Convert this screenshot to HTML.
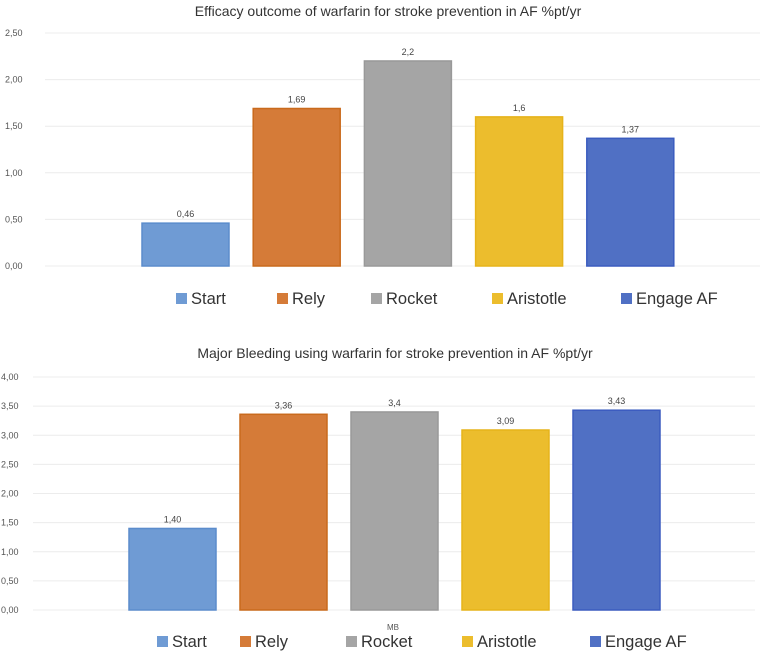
<!DOCTYPE html>
<html><head><meta charset="utf-8"><style>
html,body{margin:0;padding:0;background:#fff;}
svg{display:block;font-family:"Liberation Sans",sans-serif;}
</style></head><body>
<svg id="svg" width="771" height="653">
<text x="388" y="16" text-anchor="middle" font-size="14" fill="#333">Efficacy outcome of warfarin for stroke prevention in AF %pt/yr</text>
<text x="395" y="358" text-anchor="middle" font-size="14" fill="#333">Major Bleeding using warfarin for stroke prevention in AF %pt/yr</text>
<text x="393" y="630" text-anchor="middle" font-size="8" fill="#555">MB</text>
</svg>
<script>
const categories = ["Start","Rely","Rocket","Aristotle","Engage AF"];
const efficacyValues = [0.46,1.69,2.2,1.6,1.37];
const efficacyLabels = ["0,46","1,69","2,2","1,6","1,37"];
const bleedingValues = [1.40,3.36,3.4,3.09,3.43];
const bleedingLabels = ["1,40","3,36","3,4","3,09","3,43"];
const efficacyTicks = [0,0.5,1,1.5,2,2.5];
const bleedingTicks = [0,0.5,1,1.5,2,2.5,3,3.5,4];
const fills = ["#6f9bd4","#d57b38","#a5a5a5","#ecbd2d","#5070c4"];
const strokes = ["#5b8ccc","#c96a1c","#999","#e6b31a","#3b5cbf"];
const NS="http://www.w3.org/2000/svg";
const svg=document.getElementById('svg');
function mk(tag,attrs,txt){const e=document.createElementNS(NS,tag);for(const k in attrs)e.setAttribute(k,attrs[k]);if(txt!==undefined)e.textContent=txt;svg.appendChild(e);return e;}
function chart(cfg){
  const y=v=>cfg.y0-(v/cfg.max)*(cfg.y0-cfg.yTop);
  cfg.ticks.forEach(t=>{
    const l=mk('line',{x1:cfg.gx0,x2:cfg.gx1,y1:y(t),y2:y(t),stroke:"#ececec","stroke-width":1});
    
    
    const tx=mk('text',{x:cfg.lx,y:y(t)+3,"font-size":9,fill:"#555"},t.toFixed(2).replace('.',','));
    
    
  });
  cfg.values.forEach((v,i)=>{
    const x=cfg.bx0+i*cfg.pitch;
    const r=mk('rect',{x:x,y:y(v),width:cfg.bw,height:cfg.y0-y(v),fill:fills[i],stroke:strokes[i],"stroke-width":1.5});
    
    
    const t=mk('text',{x:x+cfg.bw/2,y:y(v)-6,"text-anchor":"middle","font-size":9,fill:"#444"},cfg.labels[i]);
    
    
  });
  categories.forEach((c,i)=>{
    const sx=cfg.legX[i];
    const s=mk('rect',{x:sx,y:cfg.legY-5,width:11,height:11,fill:fills[i]});
    
    
    const t=mk('text',{x:sx+15,y:cfg.legY+6,"font-size":16.5,fill:"#333"},c);
    
    
  });
}
chart({id:'efficacy',values:efficacyValues,labels:efficacyLabels,ticks:efficacyTicks,max:2.5,y0:266,yTop:33,gx0:45,gx1:760,lx:5,bx0:142,pitch:111.2,bw:87,legY:298,legX:[176,277,371,492,621]});
chart({id:'bleeding',values:bleedingValues,labels:bleedingLabels,ticks:bleedingTicks,max:4,y0:610,yTop:377,gx0:33,gx1:755,lx:1,bx0:129,pitch:111,bw:87,legY:641,legX:[157,240,346,462,590]});
</script>
</body></html>
